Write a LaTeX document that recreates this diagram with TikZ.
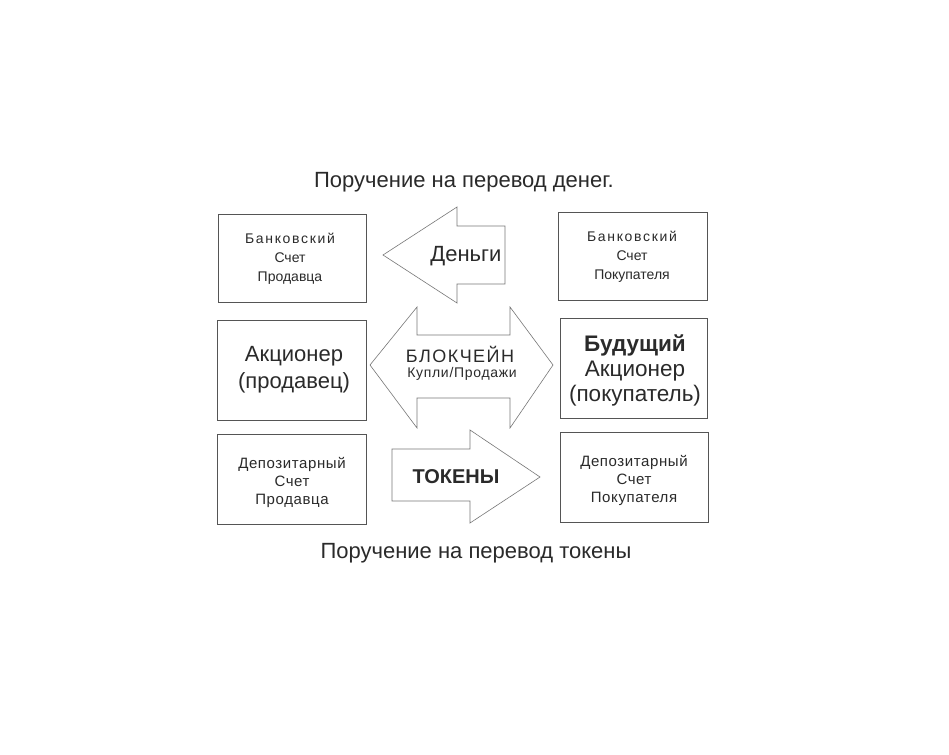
\documentclass[tikz,border=0pt]{standalone}
\usepackage{fontspec}
\setmainfont{Liberation Sans}
\definecolor{ink}{HTML}{2A2A2A}
\definecolor{edge}{HTML}{555555}
\begin{document}
\begin{tikzpicture}[x=1pt,y=-1pt,
  box/.style={draw=edge,line width=1pt,fill=white},
  arr/.style={draw=edge!80,line width=0.6pt,fill=white,line join=miter},
  txt/.style={text=ink,align=center,inner sep=0pt},
  small/.style={txt,font=\fontsize{14}{19}\selectfont},
  depo/.style={txt,font=\fontsize{15}{18}\selectfont\addfontfeature{LetterSpace=4}},
  big/.style={txt,font=\fontsize{22}{27}\selectfont}]
\useasboundingbox[fill=white] (0,0) rectangle (949,754);
% boxes
\draw[box] (218,214) rectangle (366,302) coordinate (b1);
\draw[box] (558,212) rectangle (707,300) coordinate (b2);
\draw[box] (217,320) rectangle (366,420) coordinate (b3);
\draw[box] (560,318) rectangle (707,418) coordinate (b4);
\draw[box] (217,434) rectangle (366,524) coordinate (b5);
\draw[box] (560,432) rectangle (708,522) coordinate (b6);
% arrows
\draw[arr] (383,255) -- (457,207) -- (457,226) -- (505,226) -- (505,284) -- (457,284) -- (457,303) -- cycle;
\draw[arr] (370,365) -- (417,307) -- (417,335) -- (510,335) -- (510,307) -- (553,365) -- (510,428) -- (510,398) -- (417,398) -- (417,428) -- cycle;
\draw[arr] (540,477) -- (470,430) -- (470,449) -- (392,449) -- (392,501) -- (470,501) -- (470,523) -- cycle;
% texts
\node[txt,font=\fontsize{22}{24}\selectfont] (t1) at (464,182) {Поручение на перевод денег.};
\node[txt,font=\fontsize{22}{24}\selectfont] (t2) at (476,553) {Поручение на перевод токены};
\node[small] (n1) at (290,259) {{\addfontfeature{LetterSpace=12}Банковский}\\Счет\\Продавца};
\node[small] (n2) at (632,257) {{\addfontfeature{LetterSpace=12}Банковский}\\Счет\\Покупателя};
\node[big] (n3) at (294,370) {Акционер\\(продавец)};
\node[txt,font=\fontsize{22.5}{25}\selectfont] (n4) at (635,370) {\textbf{Будущий}\\Акционер\\(покупатель)};
\node[depo] (n5) at (292,482) {Депозитарный\\Счет\\Продавца};
\node[depo] (n6) at (634,480) {Депозитарный\\Счет\\Покупателя};
\node[txt,font=\fontsize{22}{24}\selectfont] (m1) at (466,256) {Деньги};
\node[txt,font=\fontsize{18}{20}\selectfont\addfontfeature{LetterSpace=8}] (m2) at (460,354) {БЛОКЧЕЙН};
\node[txt,font=\fontsize{14}{16}\selectfont\addfontfeature{LetterSpace=5}] (m3) at (462,374) {Купли/Продажи};
\node[txt,font=\fontsize{20}{22}\selectfont\bfseries] (m4) at (456,477) {ТОКЕНЫ};
\end{tikzpicture}
\end{document}
